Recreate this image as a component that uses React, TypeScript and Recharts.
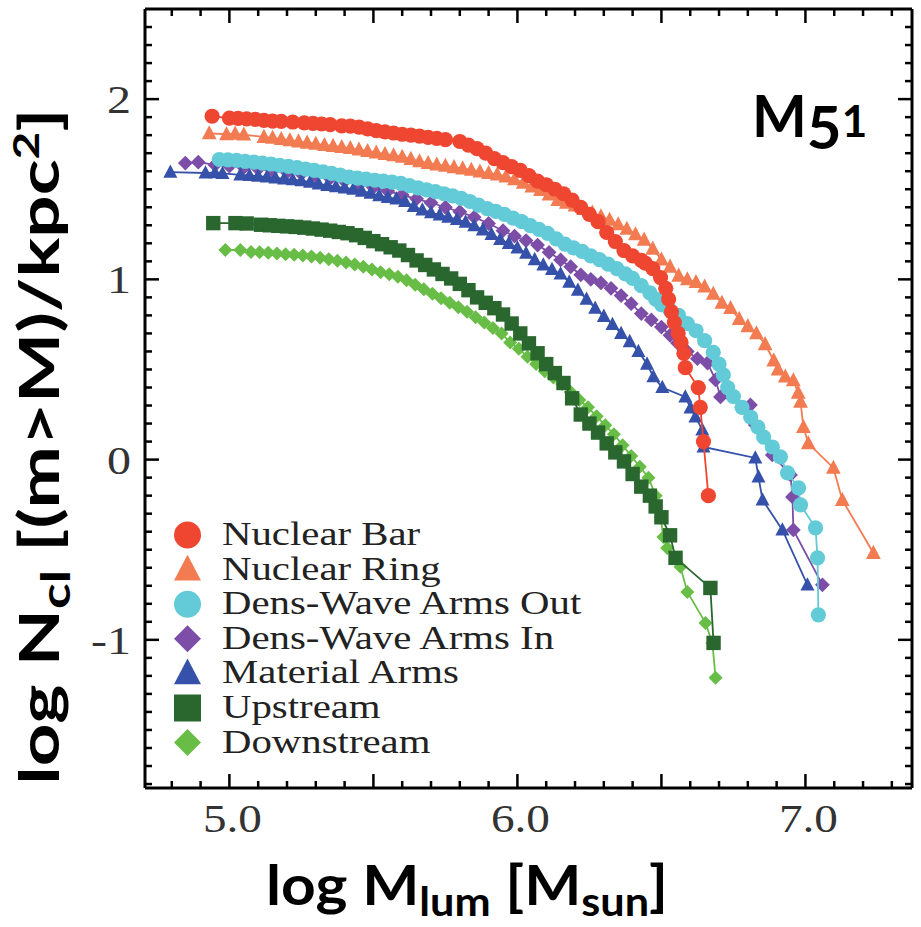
import React from "react";
import { ScatterChart, Scatter, XAxis, YAxis, Legend } from "recharts";

type Pt = [number, number];

// log M_lum, log N_cl
const nuclearBar: Pt[] = [
  [4.94, 1.905], [5.0, 1.895], [5.03, 1.893], [5.06, 1.89], [5.09, 1.888], [5.12, 1.882], [5.15, 1.878], [5.18, 1.876],
  [5.22, 1.873], [5.26, 1.868], [5.29, 1.865], [5.32, 1.862], [5.35, 1.858], [5.39, 1.852], [5.42, 1.85],
  [5.45, 1.845], [5.48, 1.835], [5.51, 1.825], [5.54, 1.818], [5.57, 1.812], [5.6, 1.805], [5.63, 1.8], [5.66, 1.795],
  [5.69, 1.788], [5.72, 1.782], [5.75, 1.775], [5.8, 1.765], [5.83, 1.745], [5.86, 1.725], [5.89, 1.7], [5.92, 1.67],
  [5.95, 1.648], [5.98, 1.625], [6.01, 1.605], [6.04, 1.575], [6.07, 1.545], [6.1, 1.525], [6.13, 1.5], [6.16, 1.475],
  [6.19, 1.44], [6.22, 1.4], [6.25, 1.36], [6.28, 1.32], [6.31, 1.26], [6.34, 1.21], [6.37, 1.16], [6.4, 1.13],
  [6.43, 1.105], [6.444, 1.09], [6.47, 1.06], [6.497, 1.01], [6.515, 0.95], [6.525, 0.89], [6.535, 0.82], [6.545, 0.76],
  [6.558, 0.7], [6.568, 0.65], [6.578, 0.59], [6.583, 0.51], [6.628, 0.4], [6.635, 0.29], [6.646, 0.1], [6.663, -0.2],
];

const nuclearRing: Pt[] = [
  [4.93, 1.81], [4.99, 1.805], [5.02, 1.808], [5.05, 1.803],
  [5.12, 1.79], [5.15, 1.785], [5.18, 1.778], [5.21, 1.772], [5.24, 1.765], [5.27, 1.758], [5.3, 1.752], [5.33, 1.745],
  [5.36, 1.74], [5.39, 1.734], [5.42, 1.728], [5.45, 1.72], [5.48, 1.712], [5.51, 1.703], [5.54, 1.695], [5.57, 1.688],
  [5.6, 1.68], [5.63, 1.668], [5.66, 1.655], [5.69, 1.645], [5.72, 1.637], [5.75, 1.63], [5.78, 1.622], [5.81, 1.615],
  [5.84, 1.607], [5.87, 1.598], [5.9, 1.59], [5.93, 1.582], [5.96, 1.57], [5.99, 1.555], [6.02, 1.535], [6.05, 1.515],
  [6.08, 1.495], [6.11, 1.47], [6.14, 1.44], [6.17, 1.425], [6.2, 1.41], [6.23, 1.39], [6.26, 1.37], [6.29, 1.35],
  [6.32, 1.33], [6.35, 1.305], [6.38, 1.28], [6.41, 1.25], [6.44, 1.22], [6.47, 1.17], [6.5, 1.11], [6.53, 1.07],
  [6.56, 1.02], [6.59, 1.0], [6.62, 0.985], [6.65, 0.96], [6.68, 0.92], [6.71, 0.87], [6.74, 0.84], [6.77, 0.78],
  [6.8, 0.74], [6.83, 0.7], [6.86, 0.64], [6.89, 0.55], [6.905, 0.5], [6.93, 0.46], [6.958, 0.44], [6.975, 0.37],
  [6.983, 0.32], [6.993, 0.18], [7.01, 0.09], [7.097, -0.046], [7.128, -0.224], [7.236, -0.518],
];

const armsOut: Pt[] = [
  [4.965, 1.665], [4.995, 1.663], [5.025, 1.66], [5.055, 1.655], [5.085, 1.65], [5.115, 1.645], [5.145, 1.64],
  [5.175, 1.633], [5.205, 1.627], [5.235, 1.62], [5.265, 1.612], [5.295, 1.605], [5.325, 1.597], [5.355, 1.588],
  [5.385, 1.578], [5.415, 1.568], [5.445, 1.562], [5.475, 1.556], [5.505, 1.55], [5.535, 1.545], [5.565, 1.54],
  [5.595, 1.532], [5.625, 1.52], [5.655, 1.508], [5.685, 1.497], [5.715, 1.487], [5.745, 1.475], [5.775, 1.463],
  [5.805, 1.45], [5.835, 1.432], [5.865, 1.412], [5.895, 1.393], [5.925, 1.377], [5.955, 1.36], [5.985, 1.34],
  [6.015, 1.32], [6.045, 1.298], [6.075, 1.277], [6.105, 1.255], [6.135, 1.225], [6.165, 1.195], [6.195, 1.175],
  [6.225, 1.155], [6.255, 1.13], [6.285, 1.11], [6.315, 1.085], [6.345, 1.06], [6.375, 1.03], [6.4, 1.005],
  [6.43, 0.965], [6.46, 0.925], [6.48, 0.89], [6.5, 0.86], [6.53, 0.83], [6.56, 0.8], [6.59, 0.755], [6.62, 0.715],
  [6.65, 0.66], [6.68, 0.595], [6.7, 0.53], [6.715, 0.47], [6.73, 0.4], [6.75, 0.35], [6.78, 0.29], [6.81, 0.235],
  [6.835, 0.18], [6.855, 0.125], [6.885, 0.07], [6.913, 0.015], [6.938, -0.074], [6.976, -0.157], [6.983, -0.251],
  [7.035, -0.379], [7.042, -0.545], [7.045, -0.861],
];

const armsIn: Pt[] = [
  [4.847, 1.645], [4.892, 1.65], [4.95, 1.635], [5.0, 1.628], [5.05, 1.62], [5.1, 1.612], [5.15, 1.603], [5.2, 1.594],
  [5.25, 1.585], [5.3, 1.574], [5.35, 1.56], [5.4, 1.545], [5.45, 1.527], [5.5, 1.51], [5.55, 1.49], [5.6, 1.468],
  [5.65, 1.447], [5.7, 1.425], [5.75, 1.4], [5.8, 1.375], [5.85, 1.345], [5.9, 1.31], [5.95, 1.27], [5.99, 1.24],
  [6.03, 1.215], [6.07, 1.19], [6.11, 1.15], [6.15, 1.108], [6.185, 1.07], [6.22, 1.025], [6.255, 1.0], [6.29, 0.98],
  [6.325, 0.95], [6.36, 0.91], [6.395, 0.865], [6.43, 0.81], [6.465, 0.775], [6.5, 0.735], [6.53, 0.69],
  [6.556, 0.647], [6.59, 0.6], [6.625, 0.56], [6.66, 0.536], [6.688, 0.442], [6.705, 0.348], [6.809, 0.303],
  [6.826, 0.192], [6.885, 0.026], [6.948, -0.085], [6.955, -0.207], [6.958, -0.39], [7.059, -0.695],
];

const materialArms: Pt[] = [
  [4.795, 1.595], [4.917, 1.59], [4.95, 1.592], [4.976, 1.588],
  [5.038, 1.58], [5.07, 1.577], [5.1, 1.573], [5.13, 1.568], [5.16, 1.563], [5.19, 1.558], [5.22, 1.553], [5.25, 1.548],
  [5.28, 1.54], [5.31, 1.53], [5.34, 1.522], [5.37, 1.515], [5.4, 1.508], [5.43, 1.5], [5.46, 1.49], [5.49, 1.478],
  [5.52, 1.465], [5.55, 1.455], [5.58, 1.447], [5.61, 1.432], [5.64, 1.405], [5.67, 1.385], [5.7, 1.37], [5.73, 1.357],
  [5.76, 1.345], [5.79, 1.333], [5.82, 1.318], [5.85, 1.298], [5.88, 1.275], [5.91, 1.25], [5.94, 1.222], [5.97, 1.2],
  [6.0, 1.175], [6.03, 1.145], [6.06, 1.11], [6.09, 1.08], [6.12, 1.055], [6.15, 1.03], [6.18, 0.985], [6.21, 0.94],
  [6.24, 0.89], [6.27, 0.84], [6.3, 0.795], [6.33, 0.75], [6.36, 0.7], [6.39, 0.655], [6.42, 0.6], [6.45, 0.53],
  [6.472, 0.46], [6.503, 0.4], [6.583, 0.348], [6.601, 0.287], [6.618, 0.237], [6.642, 0.165], [6.646, 0.07],
  [6.826, 0.009], [6.837, -0.096], [6.851, -0.224], [6.92, -0.39], [7.007, -0.695],
];

const upstream: Pt[] = [
  [4.944, 1.312], [5.021, 1.312], [5.06, 1.31], [5.11, 1.303], [5.14, 1.3], [5.17, 1.297], [5.2, 1.294], [5.23, 1.291],
  [5.26, 1.287], [5.29, 1.282], [5.32, 1.276], [5.35, 1.27], [5.38, 1.263], [5.41, 1.256], [5.44, 1.245], [5.47, 1.23],
  [5.5, 1.212], [5.53, 1.195], [5.56, 1.178], [5.59, 1.16], [5.62, 1.135], [5.65, 1.105], [5.68, 1.08], [5.71, 1.055],
  [5.74, 1.03], [5.77, 1.005], [5.8, 0.975], [5.83, 0.94], [5.86, 0.9], [5.89, 0.87], [5.92, 0.84], [5.95, 0.805],
  [5.98, 0.755], [6.01, 0.7], [6.04, 0.645], [6.07, 0.59], [6.1, 0.53], [6.13, 0.48], [6.16, 0.425], [6.19, 0.34],
  [6.22, 0.25], [6.25, 0.2], [6.28, 0.15], [6.31, 0.09], [6.34, 0.04], [6.37, -0.01], [6.4, -0.08], [6.43, -0.15],
  [6.46, -0.2], [6.48, -0.26], [6.5, -0.32], [6.53, -0.42], [6.549, -0.545], [6.67, -0.712], [6.681, -1.017],
];

const downstream: Pt[] = [
  [4.986, 1.163], [5.038, 1.163], [5.075, 1.152], [5.105, 1.15], [5.135, 1.147], [5.165, 1.144], [5.195, 1.14],
  [5.225, 1.137], [5.255, 1.133], [5.285, 1.127], [5.315, 1.12], [5.345, 1.112], [5.375, 1.103], [5.405, 1.094],
  [5.435, 1.083], [5.465, 1.07], [5.495, 1.055], [5.525, 1.04], [5.555, 1.028], [5.585, 1.015], [5.615, 0.995],
  [5.645, 0.97], [5.675, 0.945], [5.705, 0.92], [5.735, 0.895], [5.765, 0.87], [5.795, 0.845], [5.825, 0.82],
  [5.855, 0.79], [5.885, 0.76], [5.915, 0.73], [5.945, 0.7], [5.975, 0.65], [6.005, 0.615], [6.035, 0.57],
  [6.065, 0.53], [6.095, 0.49], [6.125, 0.455], [6.155, 0.42], [6.185, 0.375], [6.215, 0.33], [6.245, 0.29],
  [6.275, 0.24], [6.305, 0.19], [6.335, 0.14], [6.365, 0.08], [6.395, 0.02], [6.425, -0.04], [6.455, -0.1],
  [6.48, -0.2], [6.497, -0.32], [6.507, -0.43], [6.52, -0.49], [6.566, -0.595], [6.59, -0.734], [6.653, -0.906],
  [6.677, -1.017], [6.688, -1.211],
];

const xLabels = [5, 6, 7];
const yLabels = [-1, 0, 1, 2];
const xDomain: [number, number] = [4.707, 7.37];
const yDomain: [number, number] = [-1.822, 2.5];

// minor ticks every 0.1
const xTicks = Array.from({ length: 26 }, (_, i) => Math.round((4.8 + i * 0.1) * 10) / 10);
const yTicks = Array.from({ length: 43 }, (_, i) => Math.round((-1.8 + i * 0.1) * 10) / 10);

type Kind = "circle" | "triangle" | "square" | "diamond";

interface SeriesDef {
  name: string;
  color: string;
  kind: Kind;
  r: number;
  data: Pt[];
}

const sNuclearBar: SeriesDef = { name: "Nuclear Bar", color: "#ee4631", kind: "circle", r: 7.6, data: nuclearBar };
const sNuclearRing: SeriesDef = { name: "Nuclear Ring", color: "#f27b52", kind: "triangle", r: 7.4, data: nuclearRing };
const sArmsOut: SeriesDef = { name: "Dens-Wave Arms Out", color: "#63cbd8", kind: "circle", r: 7.6, data: armsOut };
const sArmsIn: SeriesDef = { name: "Dens-Wave Arms In", color: "#7c4ea8", kind: "diamond", r: 7.4, data: armsIn };
const sMaterial: SeriesDef = { name: "Material Arms", color: "#3551a9", kind: "triangle", r: 7, data: materialArms };
const sUpstream: SeriesDef = { name: "Upstream", color: "#29672f", kind: "square", r: 7.2, data: upstream };
const sDownstream: SeriesDef = { name: "Downstream", color: "#67bd45", kind: "diamond", r: 7, data: downstream };

const legendOrder = [sNuclearBar, sNuclearRing, sArmsOut, sArmsIn, sMaterial, sUpstream, sDownstream];
const drawOrder = [sDownstream, sUpstream, sArmsIn, sMaterial, sArmsOut, sNuclearRing, sNuclearBar];

const SERIF = "'Liberation Serif', 'Times New Roman', serif";
const SANS = "Lato, 'Open Sans', sans-serif";

function Marker({ kind, cx, cy, r, color }: { kind: Kind; cx: number; cy: number; r: number; color: string }) {
  if (cx == null || cy == null) return null;
  switch (kind) {
    case "circle":
      return <circle cx={cx} cy={cy} r={r} fill={color} />;
    case "triangle":
      return (
        <polygon
          points={`${cx},${cy - r * 1.1} ${cx - r},${cy + r * 0.8} ${cx + r},${cy + r * 0.8}`}
          fill={color}
        />
      );
    case "square":
      return <rect x={cx - r} y={cy - r} width={r * 2} height={r * 2} fill={color} />;
    default:
      return <polygon points={`${cx},${cy - r} ${cx + r},${cy} ${cx},${cy + r} ${cx - r},${cy}`} fill={color} />;
  }
}

const isInt = (v: number) => Math.abs(v - Math.round(v)) < 1e-6;
const isHalf = (v: number) => Math.abs(v * 2 - Math.round(v * 2)) < 1e-6;

function BottomTick(props: any) {
  const { x, y, payload } = props;
  const v = payload.value;
  const len = isHalf(v) ? 14 : 7;
  return (
    <g>
      <line x1={x} x2={x} y1={y} y2={y - len} stroke="#000" strokeWidth={2.5} />
      {xLabels.some((l) => Math.abs(l - v) < 1e-6) && (
        <text
          transform={`translate(${x + 3},${y + 44}) scale(1.18,1)`}
          textAnchor="middle"
          fontSize={40}
          fontFamily={SERIF}
          fill="#333"
        >
          {v.toFixed(1)}
        </text>
      )}
    </g>
  );
}

function TopTick(props: any) {
  const { x, y, payload } = props;
  const len = isHalf(payload.value) ? 14 : 7;
  return <line x1={x} x2={x} y1={y} y2={y + len} stroke="#000" strokeWidth={2.5} />;
}

function LeftTick(props: any) {
  const { x, y, payload } = props;
  const v = payload.value;
  const len = isInt(v) ? 14 : 7;
  return (
    <g>
      <line x1={x} x2={x + len} y1={y} y2={y} stroke="#000" strokeWidth={2.5} />
      {yLabels.some((l) => Math.abs(l - v) < 1e-6) && (
        <text
          transform={`translate(${x - 14},${y + 14}) scale(1.2,1)`}
          textAnchor="end"
          fontSize={40}
          fontFamily={SERIF}
          fill="#333"
        >
          {Math.round(v)}
        </text>
      )}
    </g>
  );
}

function RightTick(props: any) {
  const { x, y, payload } = props;
  const len = isInt(payload.value) ? 14 : 7;
  return <line x1={x} x2={x - len} y1={y} y2={y} stroke="#000" strokeWidth={2.5} />;
}

function XTitle(props: any) {
  const vb = props.viewBox;
  return (
    <text
      transform={`translate(${vb.x + 121},${vb.y + 117}) scale(1.08,1)`}
      fontFamily={SANS}
      fontWeight={700}
      fontSize={56}
      fill="#000"
    >
      log M
      <tspan fontSize={40} dy={11}>lum</tspan>
      <tspan dy={-11}> [M</tspan>
      <tspan fontSize={40} dy={11}>sun</tspan>
      <tspan dy={-11}>]</tspan>
    </text>
  );
}

function YTitle(props: any) {
  const vb = props.viewBox;
  const cy = vb.y + vb.height / 2 + 48;
  return (
    <text
      transform={`translate(59,${cy}) rotate(-90) scale(1.33,1)`}
      textAnchor="middle"
      fontFamily={SANS}
      fontWeight={700}
      fontSize={56}
      fill="#000"
    >
      log N
      <tspan fontSize={40} dy={11}>cl</tspan>
      <tspan dy={-11}> [(m&gt;M)/kpc</tspan>
      <tspan fontSize={36} dy={-20}>2</tspan>
      <tspan dy={20}>]</tspan>
    </text>
  );
}

function GalaxyTag(props: any) {
  const vb = props.viewBox;
  const x = vb.x - 160;
  return (
    <text x={x} y={137} fontFamily={SANS} fontWeight={700} fontSize={58} fill="#000">
      M
      <tspan fontSize={60} dy={12}>5</tspan>
      <tspan fontSize={44} dy={-12}>1</tspan>
    </text>
  );
}

function LegendBox() {
  return (
    <svg width={470} height={260} style={{ display: "block" }}>
      {legendOrder.map((s, i) => {
        const cy = 23 + i * 34.6;
        return (
          <g key={s.name}>
            <Marker kind={s.kind} cx={27.5} cy={cy} r={13.5} color={s.color} />
            <text
              transform={`translate(62,${cy + 10}) scale(1.2,1)`}
              fontSize={34}
              fontFamily={SERIF}
              fill="#222"
            >
              {s.name}
            </text>
          </g>
        );
      })}
    </svg>
  );
}

export default function App() {
  return (
    <div style={{ position: "absolute", left: 0, top: 0, width: 921, height: 927, background: "#fff" }}>
      <ScatterChart width={921} height={927} margin={{ top: 8, right: 8, bottom: 0, left: 0 }}>
        <XAxis
          dataKey="x"
          type="number"
          domain={xDomain}
          allowDataOverflow
          ticks={xTicks}
          interval={0}
          height={139}
          tickSize={0}
          tickMargin={0}
          tick={BottomTick}
          tickLine={false}
          axisLine={{ stroke: "#000", strokeWidth: 3 }}
          label={XTitle}
        />
        <XAxis
          xAxisId="top"
          orientation="top"
          dataKey="x"
          type="number"
          domain={xDomain}
          allowDataOverflow
          ticks={xTicks}
          interval={0}
          height={1}
          tickSize={0}
          tickMargin={0}
          tick={TopTick}
          tickLine={false}
          axisLine={{ stroke: "#000", strokeWidth: 3 }}
        />
        <YAxis
          dataKey="y"
          type="number"
          domain={yDomain}
          allowDataOverflow
          ticks={yTicks}
          interval={0}
          width={145}
          tickSize={0}
          tickMargin={0}
          tick={LeftTick}
          tickLine={false}
          axisLine={{ stroke: "#000", strokeWidth: 3 }}
          label={YTitle}
        />
        <YAxis
          yAxisId="right"
          orientation="right"
          dataKey="y"
          type="number"
          domain={yDomain}
          allowDataOverflow
          ticks={yTicks}
          interval={0}
          width={1}
          tickSize={0}
          tickMargin={0}
          tick={RightTick}
          tickLine={false}
          axisLine={{ stroke: "#000", strokeWidth: 3 }}
          label={GalaxyTag}
        />
        {drawOrder.map((s) => (
          <Scatter
            key={s.name}
            name={s.name}
            data={s.data.map(([x, y]) => ({ x, y }))}
            fill={s.color}
            line={{ stroke: s.color, strokeWidth: 1.8 }}
            lineJointType="linear"
            isAnimationActive={false}
            shape={(p: any) => <Marker kind={s.kind} cx={p.cx} cy={p.cy} r={s.r} color={s.color} />}
          />
        ))}
        <Legend
          layout="vertical"
          align="center"
          verticalAlign="middle"
          wrapperStyle={{ left: 160, top: 512, width: 470, height: 260 }}
          content={() => <LegendBox />}
        />
      </ScatterChart>
    </div>
  );
}
